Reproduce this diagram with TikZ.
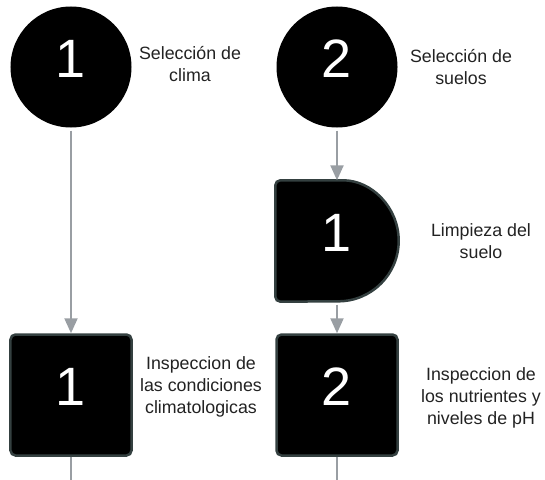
\documentclass[tikz,border=0pt]{standalone}
\usepackage{fontspec}
\setmainfont{Liberation Sans}
\usepackage{xcolor}
\usetikzlibrary{arrows.meta,positioning,backgrounds}
\definecolor{linkgray}{RGB}{153,158,163}
\definecolor{edgegray}{RGB}{52,64,64}
\definecolor{txt}{RGB}{34,34,34}

\begin{document}
\begin{tikzpicture}[>={Triangle[width=13pt,length=15pt]},on grid,
  stage/.style={circle,fill=black,inner sep=0pt,minimum size=121pt,text=white,text depth=16pt,font=\fontsize{54}{54}\selectfont},
  task/.style={rectangle,rounded corners=5pt,fill=black,draw=edgegray,line width=2.5pt,minimum width=121pt,minimum height=121pt,inner sep=0pt,text=white,text depth=16pt,font=\fontsize{54}{54}\selectfont},
  delaybox/.style={inner sep=0pt,minimum width=123pt,minimum height=121pt,text=white,text depth=16pt,font=\fontsize{54}{54}\selectfont},
  desc/.style={align=center,text=txt,font=\fontsize{17.8}{22}\selectfont},
  link/.style={draw=linkgray,line width=2.2pt}]
 \useasboundingbox (-71pt,-412pt) rectangle (474pt,67pt);
 \node[stage] (c1) at (0,0) {1};
 \node[stage] (c2) [right=266pt of c1] {2};
 \node[delaybox] (lim) [below=174pt of c2] {1};
 \node[task] (sq1) [below=328pt of c1] {1};
 \node[task] (sq2) [below=154pt of lim] {2};
 \begin{scope}[on background layer]
  \draw[fill=black,draw=edgegray,line width=2.5pt] (lim.west) [rounded corners=5pt] -- (lim.north west)
   -- ([xshift=-60.5pt]lim.north east) [sharp corners] arc[start angle=90,end angle=-90,radius=60.5pt]
   [rounded corners=5pt] -- (lim.south west) -- cycle;
 \end{scope}
 \node[desc] (t1) [right=119pt of c1,yshift=3pt] {Selección de\\clima};
 \node[desc] (t2) [right=124pt of c2] {Selección de\\suelos};
 \node[desc] (t3) [right=144pt of lim] {Limpieza del\\suelo};
 \node[desc] (t4) [right=130pt of sq1,yshift=8pt] {Inspeccion de\\las condiciones\\climatologicas};
 \node[desc] (t5) [right=144pt of sq2,yshift=-3pt] {Inspeccion de\\los nutrientes y\\niveles de pH};
 \coordinate (e1) at ([yshift=-24pt]sq1.south);
 \coordinate (e2) at ([yshift=-24pt]sq2.south);
 \path (c1) edge[link,->,shorten <=3pt] (sq1)
  (c2) edge[link,->,shorten <=3pt] (lim)
  (lim) edge[link,->,shorten <=3pt] (sq2)
  (sq1) edge[link] (e1)
  (sq2) edge[link] (e2);
\end{tikzpicture}
\end{document}
